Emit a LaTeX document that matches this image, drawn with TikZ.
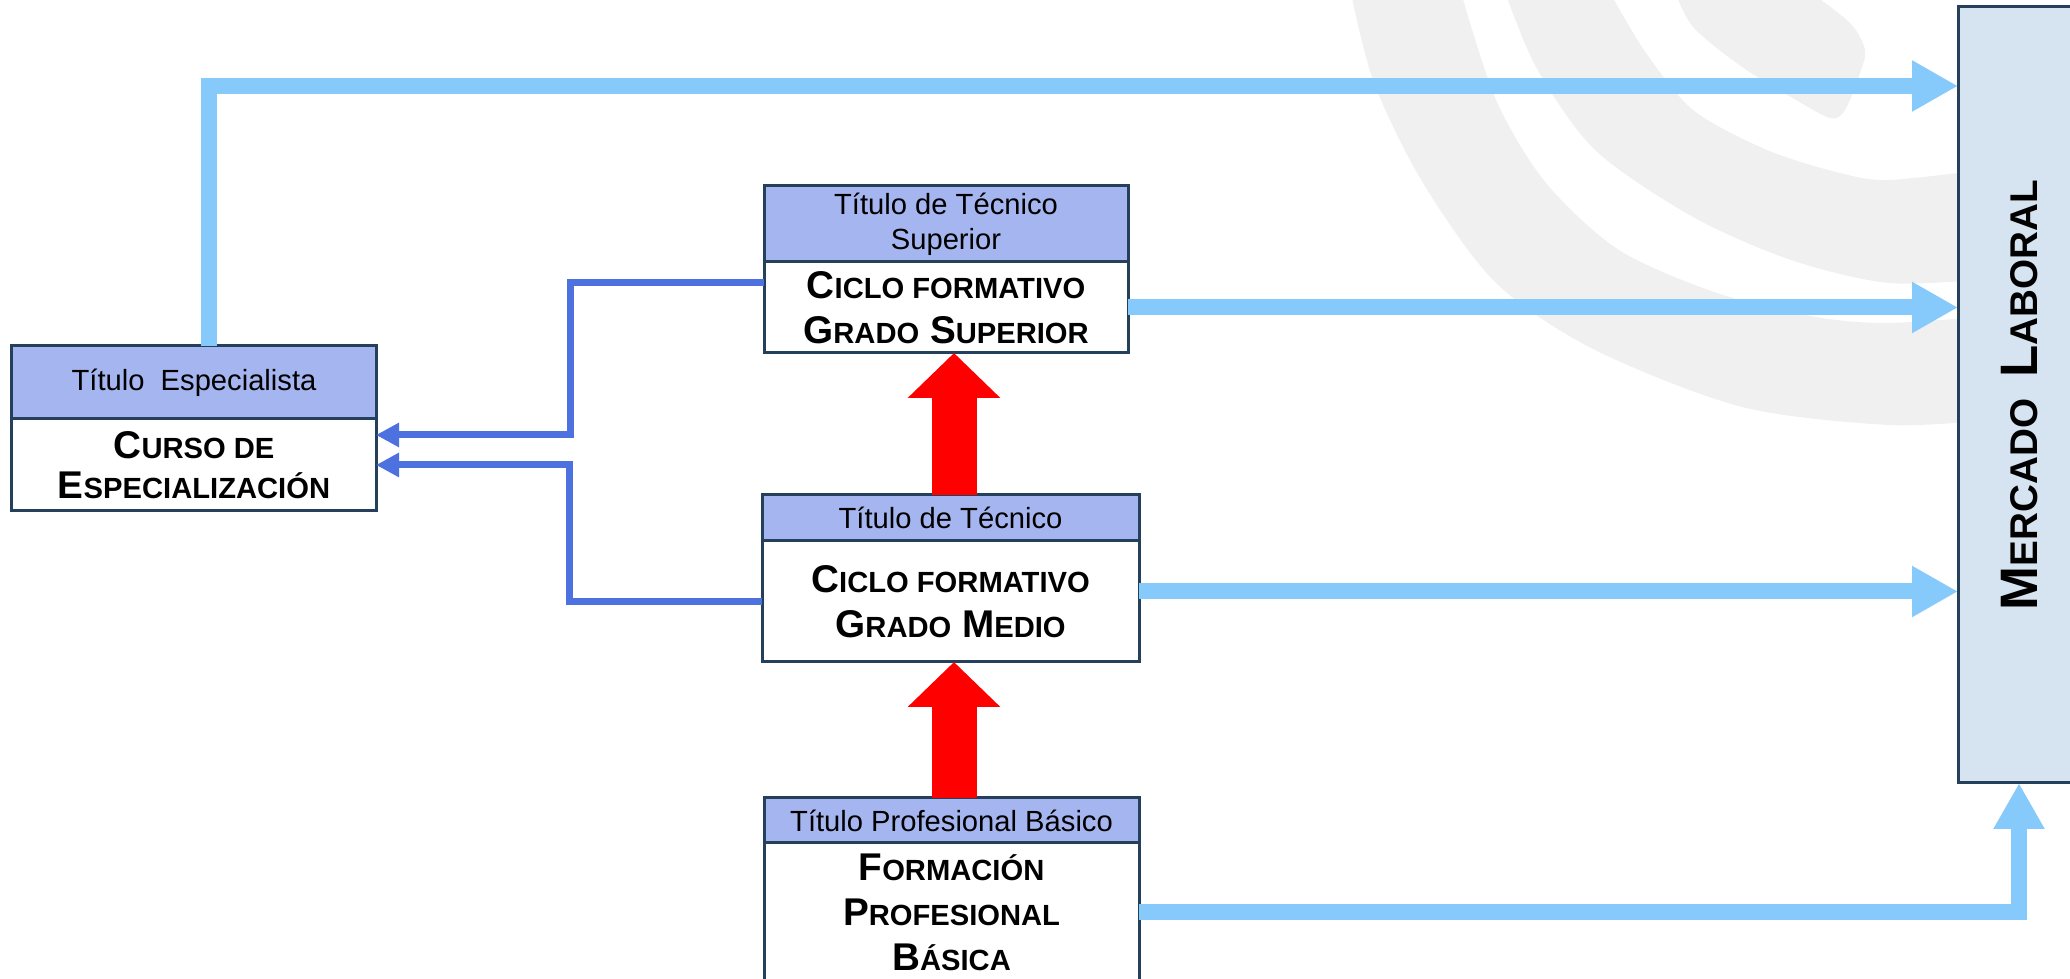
\documentclass[tikz,border=0pt]{standalone}
\usepackage{fontspec}
\setmainfont{Liberation Sans}
\usetikzlibrary{arrows.meta}
\usetikzlibrary{positioning}
\definecolor{edge}{HTML}{24405A}
\definecolor{headfill}{HTML}{A5B5EF}
\definecolor{marketfill}{HTML}{D6E4F2}
\definecolor{sky}{HTML}{86CAFC}
\definecolor{royal}{HTML}{4D72E0}
\definecolor{wmgrey}{HTML}{F0F0F0}
\newcommand{\fsc}[3][8.3]{#2{\fontsize{#1}{12}\selectfont #3}}

\begin{document}
\begin{tikzpicture}[
  head/.style = {draw=edge, fill=headfill, line width=0.3mm, inner sep=0pt, outer sep=0pt, align=center, font=\fontsize{8.3}{10}\selectfont},
  body/.style = {draw=edge, fill=white, line width=0.3mm, inner sep=0pt, outer sep=0pt, align=center, font=\fontsize{11}{12.8}\selectfont\bfseries},
  market/.style = {draw=edge, fill=marketfill, line width=0.3mm, outer sep=0pt, font=\fontsize{15}{17}\selectfont\bfseries},
  feed/.style = {draw=sky, line width=1.6mm, -{Triangle[width=4.8mm,length=4.6mm]}},
  link/.style = {draw=royal, line width=0.7mm, -{Triangle[width=2.3mm,length=2.3mm]}},
  rise/.style = {draw=red, line width=4.5mm, -{Triangle[width=9mm,length=4.5mm]}},
  wm/.style = {fill=wmgrey}
  ]
	\useasboundingbox (0,0) rectangle (20.70,9.79);

	% watermark
	\fill[wm] plot[smooth] coordinates {(13.50,9.9) (13.74,8.96) (14.23,7.96) (14.96,6.96) (15.95,6.29) (17.42,5.72) (18.89,5.54) (19.9,5.59)}
		-- plot[smooth] coordinates {(19.9,6.63) (18.89,6.56) (18.16,6.62) (17.17,6.86) (16.19,7.29) (15.46,7.96) (14.96,8.79) (14.60,9.9)} -- cycle;
	\fill[wm] plot[smooth] coordinates {(15.04,9.9) (15.36,9.12) (15.95,8.29) (16.93,7.62) (17.91,7.19) (18.89,6.96) (19.9,7.0)}
		-- plot[smooth] coordinates {(19.9,8.1) (18.89,7.99) (18.40,8.06) (17.67,8.29) (16.93,8.69) (16.44,9.29) (16.08,9.9)} -- cycle;
	\fill[wm] plot[smooth] coordinates {(16.74,9.9) (16.93,9.52) (17.42,9.12) (17.91,8.82) (18.30,8.61) (18.45,8.69) (18.60,9.06) (18.65,9.29) (18.50,9.56) (18.06,9.9)} -- cycle;

	\node[head, minimum width=3.64cm, minimum height=0.73cm, anchor=north west] (espT) at (0.12,6.33) {Título~~Especialista};
	\node[body, minimum width=3.64cm, minimum height=0.92cm, below=0pt of espT, font=\fontsize{11}{11.5}\selectfont\bfseries] (espB) {\fsc{C}{URSO DE}\\\fsc{E}{SPECIALIZACIÓN}};

	\node[head, minimum width=3.64cm, minimum height=0.76cm, anchor=north west] (supT) at (7.64,7.93) {Título de Técnico\\Superior};
	\node[body, minimum width=3.64cm, minimum height=0.91cm, below=0pt of supT] (supB) {\fsc{C}{ICLO FORMATIVO}\\\fsc{G}{RADO} \fsc{S}{UPERIOR}};

	\node[head, minimum width=3.77cm, minimum height=0.46cm, anchor=north west] (medT) at (7.62,4.84) {Título de Técnico};
	\node[body, minimum width=3.77cm, minimum height=1.21cm, below=0pt of medT] (medB) {\fsc{C}{ICLO FORMATIVO}\\\fsc{G}{RADO} \fsc{M}{EDIO}};

	\node[head, minimum width=3.75cm, minimum height=0.45cm, anchor=north west] (basT) at (7.64,1.81) {Título Profesional Básico};
	\node[body, minimum width=3.75cm, minimum height=1.38cm, below=0pt of basT] (basB) {\fsc{F}{ORMACIÓN}\\\fsc{P}{ROFESIONAL}\\\fsc{B}{ÁSICA}};

	\node[market, minimum width=1.24cm, minimum height=7.76cm, anchor=north west] (mer) at (19.58,9.72) {\rotatebox{90}{\fsc[11]{M}{ERCADO}\hspace{6pt}\fsc[11]{L}{ABORAL}}};

	\draw[feed] ([xshift=1.5mm]espT.north) |- ([yshift=-7.9mm]mer.north west);
	\draw[feed] (supB.east) -- (supB.east -| mer.west);
	\draw[feed] ([yshift=1mm]medB.east) coordinate (@m) -- (@m -| mer.west);
	\draw[feed] (basB.east) -| ([xshift=6.1mm]mer.south west);

	\draw[link] ([yshift=2.5mm]supB.west) -- ++(-1.94,0) |- ([yshift=3mm]espB.east);
	\draw[link] (medB.west) -- ++(-1.93,0) |- (espB.east);

	\coordinate (@r) at (9.54,0);
	\draw[rise] (@r |- medT.north) -- (@r |- supB.south);
	\draw[rise] (@r |- basT.north) -- (@r |- medB.south);

\end{tikzpicture}
\end{document}
